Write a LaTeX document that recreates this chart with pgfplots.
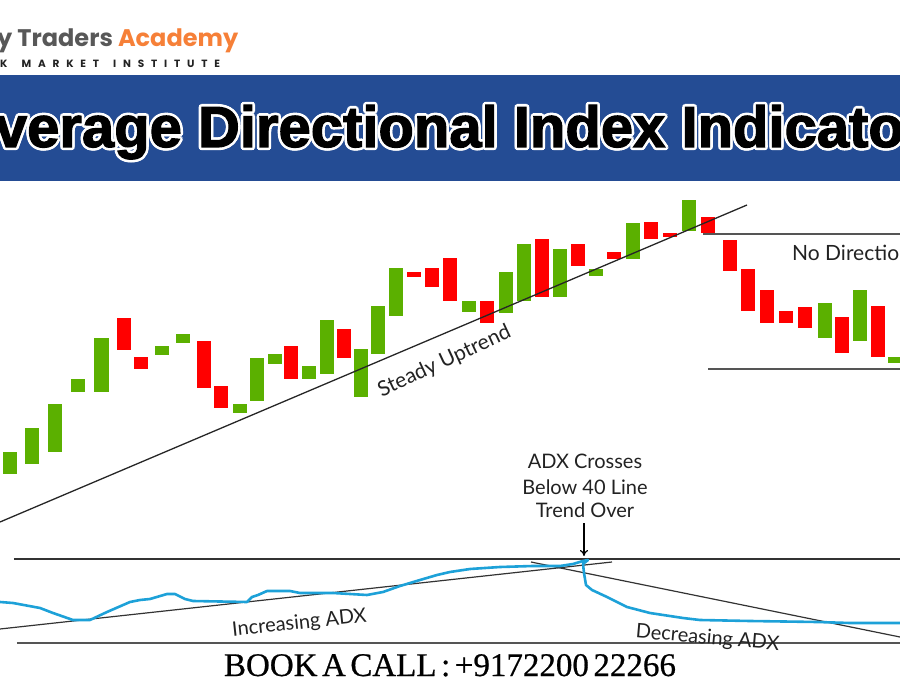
\documentclass[border=0pt]{standalone}
\usepackage{pgfplots}
\pgfplotsset{compat=1.18}
\usepackage{pgfplotstable}
\usetikzlibrary{arrows.meta}
\usepackage{fontspec}
\setmainfont{Lato}
\newfontfamily\titlefont{Liberation Sans}[BoldFeatures={FakeBold=2}]
\newfontfamily\logofont{Poppins}
\newfontfamily\callfont{Liberation Serif}[FakeBold=0.6, WordSpace=0.55]

\definecolor{upgreen}{RGB}{91,176,0}
\definecolor{downred}{RGB}{255,0,0}
\definecolor{banner}{RGB}{36,76,148}
\definecolor{adxblue}{RGB}{29,161,216}
\definecolor{logogray}{RGB}{88,88,88}
\definecolor{logoorange}{RGB}{246,128,56}
\definecolor{ink}{RGB}{34,34,34}
\definecolor{rule}{RGB}{85,85,85}

% candle bodies: centre x, top edge, bottom edge (page units, y downwards)
\pgfplotstableread{
x     top  bot
10    452  474
32.5  428  464
55.5  404  452
78    379  392
101.5 338  392
162   346  355
183   334  343
240   404  413
257   358  401
275   354  364
309   366  379
327   320  374
361   349  397
378   306  354
396   268  316
469   301  312
505.5 272  313
524   244  301
560   249  297
596   269  276
632.5 223  259
689   200  231
824.5 303  338
860   290  341
895   357  363
}\upcandles

\pgfplotstableread{
x     top  bot
124   318  350
141   357  369
204   341  388
221   386  408
291   346  379
344   329  358
414   272  277
432   268  287
450   258  301
487   301  323
542   239  297
578   244  266
614   252  259
651   222  239
670   233  237
707.5 217  233
729.5 240  271
748   269  311
767   290  323
786   311  323
805   307  328
842   317  353
878   306  357
}\downcandles

\pgfplotstableread{
x   y
0   602
13  603
40  608
53  613
73  620
90  620
107 612
130 602
140 600
150 599
167 594
175 594
185 599
193 601
247 602
252 597
258 595
267 591
290 591
300 593
333 593
350 594
367 595
383 592
400 586
420 580
437 575
450 572
470 569
500 567
533 566
560 566
573 564
583 561
588 560
583 564
584 573
586 585
592 590
607 597
627 607
650 613
683 618
700 620
750 621
817 622
850 623
900 623
}\adx

\newcommand\titletext{\titlefont\bfseries\fontsize{58}{60}\selectfont Average Directional Index Indicator}

\begin{document}
\begin{tikzpicture}
\useasboundingbox (0,0) rectangle (900pt,700pt);
\clip (0,0) rectangle (900pt,700pt);
\begin{axis}[
  scale only axis, width=900pt, height=700pt,
  xmin=0, xmax=900, ymin=0, ymax=700,
  y dir=reverse, hide axis, clip=false,
]
% header
\node[anchor=base west, inner sep=0] at (axis cs:-3,47)
  {\logofont\bfseries\fontsize{24}{28}\selectfont\textcolor{logogray}{y Traders} \textcolor{logoorange}{Academy}};
\node[anchor=base west, inner sep=0, text=ink] at (axis cs:0,68)
  {\logofont\bfseries\fontsize{10.5}{12}\selectfont\addfontfeature{LetterSpace=65}K\hspace{5pt} MARKET\hspace{5pt} INSTITUTE};
\fill[banner] (axis cs:0,75) rectangle (axis cs:900,181);
\pgfplotsinvokeforeach{0,30,...,330}{
  \node[anchor=base west, inner sep=0, text=white, shift={(#1:2.6pt)}] at (axis cs:-45,147) {\titletext};
}
\node[anchor=base west, inner sep=0, text=black] at (axis cs:-45,147) {\titletext};

% candles
\addplot[draw=none, mark=none, error bars/.cd, y dir=both, y explicit, error mark=none,
  error bar style={draw=upgreen, line width=14pt}]
  table[x=x, y expr={(\thisrow{top}+\thisrow{bot})/2}, y error expr={(\thisrow{bot}-\thisrow{top})/2}] {\upcandles};
\addplot[draw=none, mark=none, error bars/.cd, y dir=both, y explicit, error mark=none,
  error bar style={draw=downred, line width=14pt}]
  table[x=x, y expr={(\thisrow{top}+\thisrow{bot})/2}, y error expr={(\thisrow{bot}-\thisrow{top})/2}] {\downcandles};

% price trend line and range
\addplot[black!85, line width=1.3pt] coordinates {(0,522) (747,205)};
\addplot[rule, line width=2pt] coordinates {(703,234) (900,234)};
\addplot[rule, line width=2pt] coordinates {(708,369) (900,369)};
\node[anchor=base, inner sep=0, text=ink, rotate=25] at (axis cs:447,367)
  {\fontsize{21}{24}\selectfont Steady Uptrend};
\node[anchor=base west, inner sep=0, text=ink] at (axis cs:792,261)
  {\fontsize{21}{24}\selectfont No Direction};

% ADX panel
\addplot[black!80, line width=1.2pt] coordinates {(14,559) (900,559)};
\addplot[rule, line width=2pt] coordinates {(17,643) (900,643)};
\addplot[black!80, line width=1.2pt] coordinates {(0,629) (612,562)};
\addplot[black!80, line width=1.2pt] coordinates {(531,562) (900,637)};
\addplot[adxblue, line width=2.6pt, line join=round] table[x=x, y=y] {\adx};
\node[anchor=base, inner sep=0, text=ink, rotate=6] at (axis cs:300,629)
  {\fontsize{20}{24}\selectfont Increasing ADX};
\node[anchor=base, inner sep=0, text=ink, rotate=-5] at (axis cs:707,644)
  {\fontsize{20}{24}\selectfont Decreasing ADX};
\node[anchor=base, inner sep=0, text=ink] at (axis cs:585,469) {\fontsize{20}{24}\selectfont ADX Crosses};
\node[anchor=base, inner sep=0, text=ink] at (axis cs:585,494) {\fontsize{20}{24}\selectfont Below 40 Line};
\node[anchor=base, inner sep=0, text=ink] at (axis cs:585,518) {\fontsize{20}{24}\selectfont Trend Over};
\draw[black, line width=1.2pt, -{To[length=6pt,width=8pt]}] (axis cs:584,523) -- (axis cs:584,556);

% footer
\node[anchor=base, inner sep=0, text=black] at (axis cs:450,676)
  {\callfont\fontsize{33}{36}\selectfont BOOK A CALL : +9172200 22266};
\end{axis}
\end{tikzpicture}
\end{document}
